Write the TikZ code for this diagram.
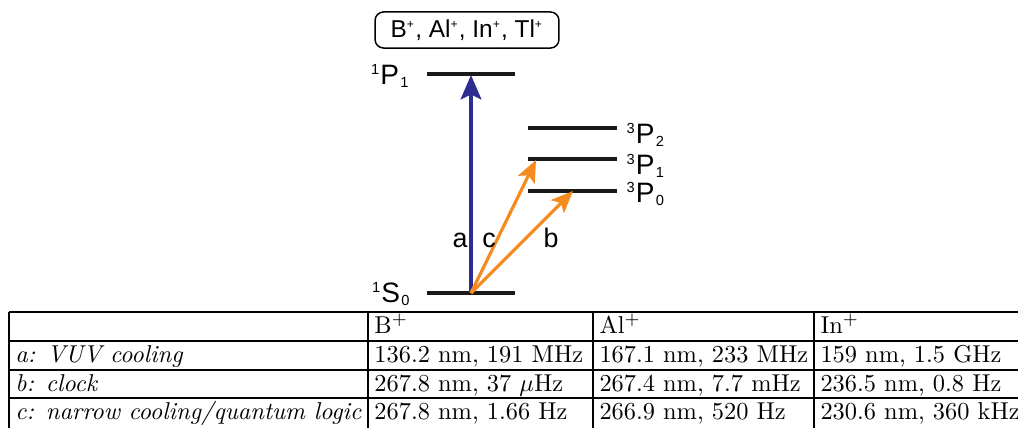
\documentclass[tikz,border=0pt]{standalone}
\usepackage{fontspec}
\usepackage{xcolor}
\newfontfamily\levelfont{Liberation Sans}
\usetikzlibrary{arrows.meta,positioning}

\definecolor{uvblue}{RGB}{43,46,143}
\definecolor{laserorange}{RGB}{245,138,31}

\newcommand{\stateterm}[3]{\raisebox{4pt}{\fontsize{6}{7}\selectfont#1}\hspace{0.5pt}#2\hspace{0.5pt}\raisebox{-1.5pt}{\fontsize{6}{7}\selectfont#3}}
\newcommand{\ionplus}[1]{#1\textsuperscript{\tiny+}}

\begin{document}
\begin{tikzpicture}[
    x=0.41pt, y=-0.41pt,
    level/.style={line width=1.3pt, draw=black!90},
    term/.style={font=\levelfont\fontsize{11.5}{13}\selectfont, inner sep=0pt},
    trans/.style={font=\levelfont\fontsize{11}{13}\selectfont, inner sep=0pt, anchor=base},
    species/.style={rectangle, rounded corners=3.5pt, draw=black, line width=0.6pt, minimum width=75.4pt, minimum height=14.8pt, inner sep=0pt, font=\levelfont\fontsize{10}{12}\selectfont},
    uvarrow/.style={line width=1.3pt, draw=uvblue, -{Stealth[length=10pt,width=8.5pt,inset=2pt]}},
    laser/.style={line width=1.3pt, draw=laserorange, -{Stealth[length=9pt,width=7.5pt,inset=2pt]}},
    rule/.style={line width=0.5pt},
    cell/.style={anchor=base west, inner sep=0pt, font=\fontsize{10}{12}\selectfont}
]
    \useasboundingbox (0,0) rectangle (1018,428);

    % ion species
    \node[species] (ions) at (467,30) {\ionplus{B}, \ionplus{Al}, \ionplus{In}, \ionplus{Tl}};

    % levels
    \draw[level] (427,74) coordinate (p1w) -- (515,74) coordinate (p1e);
    \draw[level] (427,293) coordinate (s0w) -- (515,293) coordinate (s0e);
    \draw[level] (528,128) coordinate (tp2w) -- (617,128) coordinate (tp2e);
    \draw[level] (528,159) coordinate (tp1w) -- (617,159) coordinate (tp1e);
    \draw[level] (528,191) coordinate (tp0w) -- (617,191) coordinate (tp0e);

    \node[term, anchor=base east] (p1lbl) at (409,84) {\stateterm{1}{P}{1}};
    \node[term, anchor=base east] (s0lbl) at (410,302) {\stateterm{1}{S}{0}};
    \node[term, anchor=base west] (tp2lbl) at (626,143) {\stateterm{3}{P}{2}};
    \node[term, anchor=base west] (tp1lbl) at (626,174) {\stateterm{3}{P}{1}};
    \node[term, anchor=base west] (tp0lbl) at (626,202) {\stateterm{3}{P}{0}};

    % transitions
    \coordinate (s0) at (471,293);
    \coordinate (p1) at (471,75);
    \coordinate (tp1) at (536,160);
    \coordinate (tp0) at (573,191);
    \draw[uvarrow] (s0) -- (p1);
    \draw[laser] (s0) -- (tp1);
    \draw[laser] (s0) -- (tp0);

    \node[trans] (la) at (460,247) {a};
    \node[trans] (lc) at (489,247) {c};
    \node[trans] (lb) at (551,247) {b};

    % table
    \foreach \y in {312,341,370,398}
        \draw[rule] (9,\y) -- (1018,\y);
    \foreach \x in {9,368,593,814}
        \draw[rule] (\x,312) -- (\x,428);

    \node[cell] (hb) at (374,333) {B$^+$};
    \node[cell] (hal) at (599,333) {Al$^+$};
    \node[cell] (hin) at (820,333) {In$^+$};

    \node[cell] (ra) at (15,362) {\textit{a: VUV cooling}};
    \node[cell] (rab) at (374,362) {136.2 nm, 191 MHz};
    \node[cell] (raal) at (599,362) {167.1 nm, 233 MHz};
    \node[cell] (rain) at (820,362) {159 nm, 1.5 GHz};

    \node[cell] (rb) at (15,391) {\textit{b: clock}};
    \node[cell] (rbb) at (374,391) {267.8 nm, 37 $\mu$Hz};
    \node[cell] (rbal) at (599,391) {267.4 nm, 7.7 mHz};
    \node[cell] (rbin) at (820,391) {236.5 nm, 0.8 Hz};

    \node[cell] (rc) at (15,419) {\textit{c: narrow cooling/quantum logic}};
    \node[cell] (rcb) at (374,419) {267.8 nm, 1.66 Hz};
    \node[cell] (rcal) at (599,419) {266.9 nm, 520 Hz};
    \node[cell] (rcin) at (820,419) {230.6 nm, 360 kHz};

\end{tikzpicture}
\end{document}
